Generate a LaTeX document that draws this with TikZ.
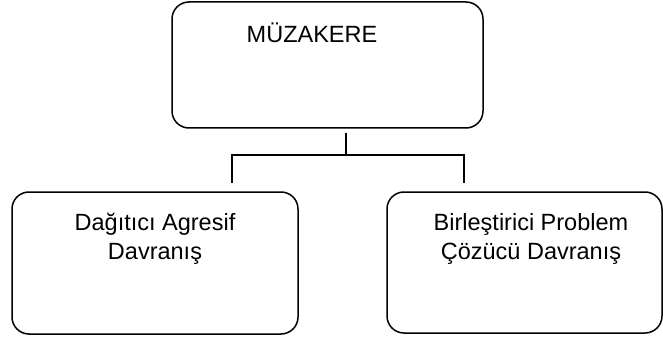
\documentclass[tikz,border=0pt]{standalone}
\usepackage{fontspec}
\setmainfont{Liberation Sans}
\begin{document}
\begin{tikzpicture}[x=1pt,y=-1pt,
  box/.style={draw, line width=1.5pt, rounded corners=17pt, inner sep=0pt},
  lbl/.style={anchor=base, inner sep=0pt, font=\fontsize{23.5}{28}\selectfont},
  conn/.style={line width=1.5pt}]
\useasboundingbox (0,0) rectangle (663,339);
% boxes
\node[box, minimum width=311pt, minimum height=126pt] (top) at (327.5,65) {};
\node[box, minimum width=286pt, minimum height=142pt] (left) at (155,263) {};
\node[box, minimum width=275pt, minimum height=141pt] (right) at (524.5,262.5) {};
% texts
\node[lbl] (ttop) at (312,42.5) {MÜZAKERE};
\node[lbl] (tl1) at (155,230) {Dağıtıcı Agresif};
\node[lbl] (tl2) at (155,259) {Davranış};
\node[lbl] (tr1) at (531,230) {Birleştirici Problem};
\node[lbl] (tr2) at (531,259) {Çözücü Davranış};
% connectors
\coordinate (s) at (346,133);
\coordinate (j) at (346,155);
\coordinate (la) at (232,183);
\coordinate (ra) at (464,183);
\draw[conn] (s) -- (j);
\draw[conn] (la) -- (la|-j) -- (ra|-j) -- (ra);
\end{tikzpicture}
\end{document}
